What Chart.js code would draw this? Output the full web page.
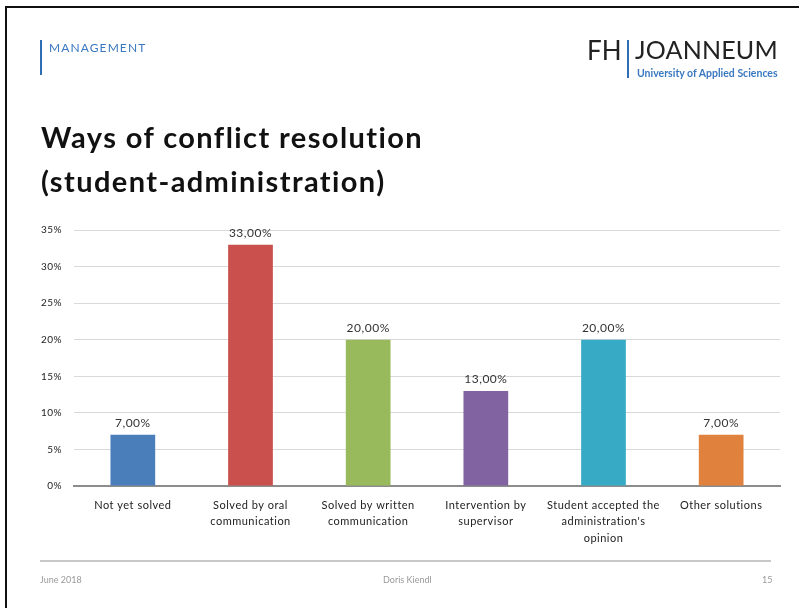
<!DOCTYPE html>
<html>
<head>
<meta charset="utf-8">
<script src="https://cdn.jsdelivr.net/npm/chart.js@4/dist/chart.umd.min.js"></script>
<style>
  html, body { margin: 0; padding: 0; background: #fff; }
  body { width: 799px; height: 608px; position: relative; overflow: hidden; font-family: Lato, "Open Sans", sans-serif; }
  #chart { position: absolute; left: 0; top: 0; }
  .frame-top { position: absolute; left: 5px; top: 6px; width: 794px; height: 2px; background: #111; }
  .frame-left { position: absolute; left: 5px; top: 6px; width: 2px; height: 602px; background: #111; }
  .dept-bar { position: absolute; left: 40px; top: 40px; width: 2px; height: 35px; background: #2f6db5; }
  .dept { position: absolute; left: 49px; top: 40px; font-size: 12px; color: #3a78c0; letter-spacing: 1.1px; }
  .logo-fh { position: absolute; left: 587px; top: 34px; font-size: 26px; color: #222; }
  .logo-bar { position: absolute; left: 627px; top: 40px; width: 2px; height: 38px; background: #2f6db5; }
  .logo-name { position: absolute; left: 635px; top: 34px; font-size: 25px; color: #222; letter-spacing: 0.2px; }
  .logo-sub { position: absolute; left: 637px; top: 67px; font-size: 10.5px; color: #3a78c0; font-weight: bold; }
  .title { position: absolute; left: 41px; top: 115px; font-size: 29px; font-weight: bold; color: #111; line-height: 44px; letter-spacing: 1.4px; }
  .foot-line { position: absolute; left: 40px; top: 560px; width: 731px; height: 2px; background: #c8c8c8; }
  .foot { position: absolute; top: 574px; font-size: 9px; color: #9a9a9a; }
</style>
</head>
<body>
<canvas id="chart" width="799" height="608"></canvas>

<div class="frame-top"></div>
<div class="frame-left"></div>
<div class="dept-bar"></div>
<div class="dept">MANAGEMENT</div>
<div class="logo-fh">FH</div>
<div class="logo-bar"></div>
<div class="logo-name">JOANNEUM</div>
<div class="logo-sub">University of Applied Sciences</div>
<div class="title">Ways of conflict resolution<br>(student-administration)</div>
<div class="foot-line"></div>
<div class="foot" style="left:40px">June 2018</div>
<div class="foot" style="left:383px">Doris Kiendl</div>
<div class="foot" style="left:762px">15</div>

<script>
// Resolution categories (multi-line axis labels)
const categories = [
  ["Not yet solved"],
  ["Solved by oral", "communication"],
  ["Solved by written", "communication"],
  ["Intervention by", "supervisor"],
  ["Student accepted the", "administration's", "opinion"],
  ["Other solutions"]
];
// Share of answers, in percent
const shares = [7, 33, 20, 13, 20, 7];
const barColors = ["#4a7ebb", "#c9504d", "#98b95c", "#8063a0", "#37abc6", "#e0823d"];
// Value axis ticks (percent)
const yMin = 0, yMax = 35, yStep = 5;

const fmtValue = v => v.toFixed(2).replace(".", ",") + "%";

// Slightly spaced-out lettering for all canvas text
const letterSpacing = {
  id: "letterSpacing",
  beforeDraw(chart) { chart.ctx.letterSpacing = "0.5px"; }
};

// Writes each bar's value above it
const valueLabels = {
  id: "valueLabels",
  afterDatasetsDraw(chart) {
    const ctx = chart.ctx;
    const meta = chart.getDatasetMeta(0);
    const data = chart.data.datasets[0].data;
    ctx.save();
    ctx.font = "12px Lato, 'Open Sans', sans-serif";
    ctx.fillStyle = "#333";
    ctx.textAlign = "center";
    ctx.textBaseline = "bottom";
    meta.data.forEach((bar, i) => {
      ctx.fillText(fmtValue(data[i]), bar.x, bar.y - 6);
    });
    ctx.restore();
  }
};

new Chart(document.getElementById("chart"), {
  type: "bar",
  data: {
    labels: categories,
    datasets: [{
      data: shares,
      backgroundColor: barColors,
      borderWidth: 0,
      barPercentage: 0.38,
      categoryPercentage: 1.0
    }]
  },
  options: {
    responsive: false,
    devicePixelRatio: 1,
    animation: false,
    layout: { padding: { top: 230, left: 0, right: 19, bottom: 0 } },
    plugins: { legend: { display: false }, tooltip: { enabled: false } },
    scales: {
      x: {
        grid: { display: false, drawTicks: false },
        border: { display: true, color: "#8c8c8c", width: 2 },
        ticks: {
          autoSkip: false, maxRotation: 0, padding: 11,
          color: "#222",
          font: { family: "Lato, 'Open Sans', sans-serif", size: 11, lineHeight: 1.5 }
        },
        afterFit(scale) { scale.height = 122; }
      },
      y: {
        min: yMin, max: yMax,
        grid: { color: "#d9d9d9", lineWidth: 1, drawTicks: false },
        border: { display: false },
        ticks: {
          stepSize: yStep, padding: 12, color: "#222",
          font: { family: "Lato, 'Open Sans', sans-serif", size: 10 },
          callback: v => v + "%"
        },
        afterFit(scale) { scale.width = 74; }
      }
    }
  },
  plugins: [letterSpacing, valueLabels]
});
</script>
</body>
</html>
